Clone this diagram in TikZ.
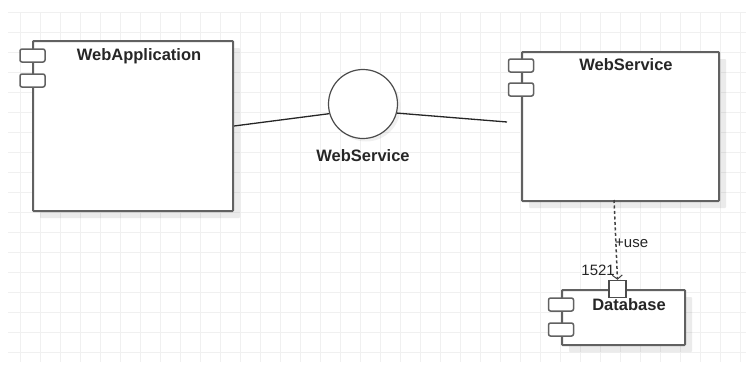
\documentclass[tikz,border=0pt]{standalone}
\usepackage{fontspec}
\setmainfont{Liberation Sans}
\usetikzlibrary{positioning,arrows.meta,shadows}

\begin{document}
\begin{tikzpicture}[
  x=1pt, y=-1pt,
  gridline/.style={draw=black!6, line width=0.8pt},
  comp/.style={draw=black!62, line width=2pt, fill=white, inner sep=0pt,
    anchor=north west, rounded corners=0.8pt,
    drop shadow={shadow xshift=7pt, shadow yshift=-7pt, fill=black, opacity=0.08}},
  port/.style={draw=black!62, line width=1.5pt, fill=white, rounded corners=2pt,
    minimum width=25pt, minimum height=13pt, inner sep=0pt},
  iface/.style={circle, draw=black!70, line width=1.2pt, fill=white,
    minimum size=69pt, inner sep=0pt,
    drop shadow={shadow xshift=3pt, shadow yshift=-3pt, fill=black, opacity=0.06}},
  title/.style={inner sep=0pt, text=black!85, font=\fontsize{16.5}{18}\selectfont\bfseries},
  note/.style={inner sep=0pt, text=black!85, font=\fontsize{15}{17}\selectfont},
  link/.style={draw=black!85, line width=1.3pt},
  dep/.style={draw=black!75, line width=1.5pt, dash pattern=on 3pt off 2.5pt,
    -{Straight Barb[length=4pt,width=10pt,line width=1pt]}}
  ]
  \useasboundingbox (0,0) rectangle (746,367);

  % background grid
  \foreach \x in {20,40,...,740} {
    \draw[gridline] (\x,12) -- (\x,362);
  }
  \foreach \y in {12,32,...,352} {
    \draw[gridline] (8,\y) -- (746,\y);
  }

  % components
  \node[comp, minimum width=200pt, minimum height=170pt] (webapp) at (32,40) {};
  \node[comp, minimum width=197pt, minimum height=149pt] (websvc) at (521,51) {};
  \node[comp, minimum width=123pt, minimum height=55pt] (db) at (561,289) {};

  \foreach \n/\x/\y in {wa1/32.5/55.5, wa2/32.5/80.5,
                        ws1/521/65.5, ws2/521/89.5,
                        db1/561/304.5, db2/561/329.5} {
    \node[port] (\n) at (\x,\y) {};
  }

  \node[title] (webapptitle) at (139,56) {WebApplication};
  \node[title] (websvctitle) at (626,65) {WebService};
  \node[title] (dbtitle) at (629,305) {Database};

  % provided interface
  \node[iface] (iface) at (363,104) {};
  \node[title] (ifacetitle) at (363,156) {WebService};

  \coordinate (wsend) at (507,122);
  \draw[link] (webapp.east) -- (iface.196);
  \draw[link] (iface.345) -- (wsend);

  % dependency to database port
  \node[draw=black!70, line width=1.5pt, fill=white, minimum size=17pt,
    inner sep=0pt] (dbport) at (617.5,289) {};
  \coordinate (depstart) at (614,200);
  \draw[dep] (depstart) -- (dbport.north);
  \node[note, anchor=west] (uselbl) at (615,243) {+use};
  \node[note, anchor=east] (portlbl) at (615,270) {1521};
\end{tikzpicture}
\end{document}
